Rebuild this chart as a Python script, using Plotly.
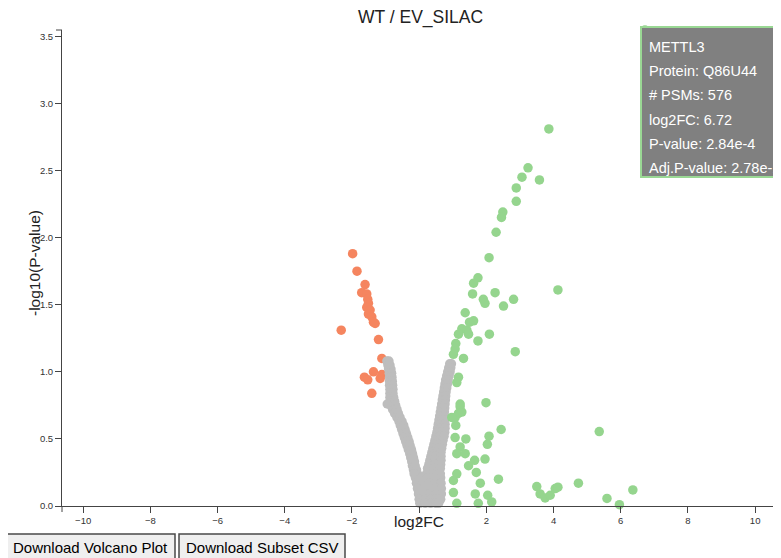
import plotly.graph_objects as go

# ---------------- data ----------------
title_text = "WT / EV_SILAC"
x_ticks = [-10, -8, -6, -4, -2, 0, 2, 4, 6, 8, 10]
y_ticks = [0.0, 0.5, 1.0, 1.5, 2.0, 2.5, 3.0, 3.5]

# down-regulated (significant, log2FC < 0)
down_x = [-1.98, -1.85, -1.61, -1.71, -1.56, -1.53, -1.51, -1.56, -1.46, -1.51, -1.41,
          -1.36, -1.31, -2.32, -1.21, -1.11, -1.36, -1.63, -1.53, -1.16, -1.41, -1.11]
down_y = [1.88, 1.75, 1.65, 1.59, 1.58, 1.54, 1.51, 1.48, 1.46, 1.43, 1.41,
          1.37, 1.36, 1.31, 1.24, 1.10, 1.00, 0.96, 0.94, 0.95, 0.84, 0.98]

# up-regulated (significant, log2FC > 0)
up_x = [6.72, 3.86, 3.24, 3.06, 3.58, 2.89, 2.89, 2.49, 2.45, 2.29, 2.08, 1.75, 1.62,
        1.59, 2.26, 1.91, 1.96, 2.81, 4.13, 2.51, 1.37, 1.50, 1.62, 1.27, 1.42, 1.17,
        1.47, 1.75, 2.09, 1.09, 1.07, 2.86, 1.02, 1.32, 1.17, 1.12, 1.99, 1.22, 1.17,
        1.27, 1.09, 2.44, 2.08, 1.39, 1.07, 2.03, 1.22, 1.12, 1.37, 1.96, 1.65, 1.47,
        1.70, 1.12, 2.36, 1.82, 1.02, 1.02, 1.67, 2.04, 1.12, 1.76, 2.16, 5.36, 3.50,
        3.60, 3.75, 3.90, 4.05, 4.13, 4.74, 6.36, 5.59, 5.96, 1.07, 0.97, 1.22]
up_y = [3.547, 2.81, 2.52, 2.45, 2.43, 2.37, 2.27, 2.19, 2.15, 2.04, 1.85, 1.70, 1.66,
        1.58, 1.59, 1.54, 1.51, 1.54, 1.61, 1.49, 1.44, 1.37, 1.38, 1.32, 1.31, 1.28,
        1.28, 1.23, 1.28, 1.21, 1.17, 1.15, 1.13, 1.10, 0.96, 0.92, 0.77, 0.74, 0.69,
        0.70, 0.60, 0.57, 0.52, 0.50, 0.51, 0.46, 0.44, 0.39, 0.39, 0.35, 0.34, 0.30,
        0.25, 0.24, 0.20, 0.17, 0.19, 0.10, 0.09, 0.08, 0.02, 0.02, 0.03, 0.555, 0.145,
        0.09, 0.06, 0.08, 0.13, 0.14, 0.17, 0.12, 0.056, 0.01, 0.66, 0.66, 0.76]

# not significant (dense V-shaped cloud)
ns_x = [-0.96, -0.90, -0.93, -0.87, -0.91, -0.84, -0.89, -0.82, -0.88, -0.81,
        -0.88, -0.80, -0.88, -0.79, -0.87, -0.78, -0.87, -0.78, -0.87, -0.76,
        -0.86, -0.73, -0.84, -0.70, -0.79, -0.66, -0.73, -0.62, -0.66, -0.57,
        -0.60, -0.51, -0.56, -0.46, -0.52, -0.42, -0.48, -0.38, -0.44, -0.34,
        -0.40, -0.30, -0.36, -0.27, -0.32, -0.23, -0.28, -0.20, -0.25, -0.17,
        -0.22, -0.14, -0.20, -0.12, -0.17, -0.08, -0.15, -0.05, -0.95,
        0.91, 0.96, 0.88, 0.94, 0.85, 0.92, 0.82, 0.89, 0.79, 0.86, 0.77, 0.84,
        0.75, 0.82, 0.73, 0.80, 0.71, 0.79, 0.69, 0.78, 0.67, 0.77, 0.65, 0.76,
        0.63, 0.75, 0.61, 0.75,
        0.59, 0.68, 0.76, 0.57, 0.66, 0.77, 0.55, 0.65, 0.77, 0.53, 0.64, 0.76,
        0.50, 0.62, 0.74, 0.47, 0.59, 0.71, 0.44, 0.57, 0.69, 0.41, 0.54, 0.67,
        0.38, 0.52, 0.65, 0.35, 0.50, 0.65, 0.32, 0.48, 0.65, 0.29, 0.46, 0.64,
        0.25, 0.44, 0.63,
        -0.13, 0.22, 0.40, 0.63, -0.11, 0.06, 0.24, 0.42, 0.64,
        -0.08, 0.10, 0.28, 0.46, 0.65, -0.05, 0.13, 0.31, 0.49, 0.66,
        -0.02, 0.16, 0.33, 0.50, 0.66, 0.00, 0.17, 0.34, 0.50, 0.64,
        0.02, 0.18, 0.34, 0.50, 0.58]
ns_y = [1.08, 1.08, 1.05, 1.05, 1.02, 1.02, 0.99, 0.99, 0.96, 0.96,
        0.93, 0.93, 0.90, 0.90, 0.87, 0.87, 0.84, 0.84, 0.81, 0.81,
        0.78, 0.78, 0.75, 0.75, 0.72, 0.72, 0.69, 0.69, 0.66, 0.66,
        0.63, 0.63, 0.60, 0.60, 0.57, 0.57, 0.54, 0.54, 0.51, 0.51,
        0.48, 0.48, 0.45, 0.45, 0.42, 0.42, 0.39, 0.39, 0.36, 0.36,
        0.33, 0.33, 0.30, 0.30, 0.27, 0.27, 0.24, 0.24, 0.76,
        1.06, 1.06, 1.03, 1.03, 1.00, 1.00, 0.97, 0.97, 0.94, 0.94, 0.91, 0.91,
        0.88, 0.88, 0.85, 0.85, 0.82, 0.82, 0.79, 0.79, 0.76, 0.76, 0.73, 0.73,
        0.70, 0.70, 0.67, 0.67,
        0.64, 0.64, 0.64, 0.61, 0.61, 0.61, 0.58, 0.58, 0.58, 0.55, 0.55, 0.55,
        0.52, 0.52, 0.52, 0.49, 0.49, 0.49, 0.46, 0.46, 0.46, 0.43, 0.43, 0.43,
        0.40, 0.40, 0.40, 0.37, 0.37, 0.37, 0.34, 0.34, 0.34, 0.31, 0.31, 0.31,
        0.28, 0.28, 0.28,
        0.24, 0.24, 0.24, 0.24, 0.21, 0.21, 0.21, 0.21, 0.21,
        0.17, 0.17, 0.17, 0.17, 0.17, 0.13, 0.13, 0.13, 0.13, 0.13,
        0.09, 0.09, 0.09, 0.09, 0.09, 0.05, 0.05, 0.05, 0.05, 0.05,
        0.02, 0.02, 0.02, 0.02, 0.02]

tooltip_lines = ["METTL3", "Protein: Q86U44", "# PSMs: 576", "log2FC: 6.72",
                 "P-value: 2.84e-4", "Adj.P-value: 2.78e-1"]
button_labels = ["Download Volcano Plot", "Download Subset CSV"]

# ---------------- figure ----------------
FONT = "Liberation Sans, Arial, Helvetica, sans-serif"
# page body has an 8px margin, so the figure is drawn 8px smaller and
# positioned so that the plot area lands at the reference location
OFF = 8
W, H = 781 - OFF, 558 - OFF
X0, X1, Y0, Y1 = 62, 778, 30, 506        # plot area in window pixels
PW, PH = X1 - X0, Y1 - Y0
ML, MT = X0 - OFF, Y0 - OFF
MR, MB = W - ML - PW, H - MT - PH


def px(x):
    return (x - X0) / PW


def py(y):
    return (Y1 - y) / PH


GREY = "#bdbdbd"
GREEN = "#95d58e"
RED = "#f5855f"
MS = 9.5

fig = go.Figure()
fig.add_trace(go.Scatter(x=down_x, y=down_y, mode="markers", cliponaxis=False,
                         marker=dict(size=MS, color=RED, line=dict(width=0)),
                         hoverinfo="skip", showlegend=False))
fig.add_trace(go.Scatter(x=ns_x, y=ns_y, mode="markers", cliponaxis=False,
                         marker=dict(size=MS, color=GREY, line=dict(width=0)),
                         hoverinfo="skip", showlegend=False))
fig.add_trace(go.Scatter(x=up_x, y=up_y, mode="markers", cliponaxis=False,
                         marker=dict(size=MS, color=GREEN, line=dict(width=0)),
                         hoverinfo="skip", showlegend=False))

axis_common = dict(showgrid=False, zeroline=False, showline=True, linecolor="#444",
                   linewidth=1, ticks="outside", ticklen=6, tickcolor="#444",
                   tickwidth=1, tickfont=dict(family=FONT, size=9.5, color="#333"))
fig.update_xaxes(range=[-10.63, 10.68], tickvals=x_ticks, **axis_common)
fig.update_yaxes(range=[0, 3.547], tickvals=y_ticks, tickformat=".1f", **axis_common)

shapes = []
# outer (domain) ticks at axis ends
shapes.append(dict(type="line", xref="paper", yref="paper", x0=px(X0 - 6), x1=0,
                   y0=1, y1=1, line=dict(color="#444", width=1)))
shapes.append(dict(type="line", xref="paper", yref="paper", x0=0, x1=0,
                   y0=0, y1=py(Y1 + 6), line=dict(color="#444", width=1)))
shapes.append(dict(type="line", xref="paper", yref="paper", x0=1, x1=1,
                   y0=0, y1=py(Y1 + 6), line=dict(color="#444", width=1)))
# tooltip box
shapes.append(dict(type="rect", xref="paper", yref="paper", layer="above",
                   x0=px(641), x1=px(830), y0=py(177), y1=py(27),
                   fillcolor="#808080", line=dict(color="#9ad894", width=2)))
# buttons
for bx0, bx1 in [(4, 175), (179, 345)]:
    shapes.append(dict(type="rect", xref="paper", yref="paper",
                       x0=px(bx0), x1=px(bx1), y0=py(566), y1=py(534),
                       fillcolor="#efefef", line=dict(color="#4a4a4a", width=1.5)))

ann = []
ann.append(dict(text=title_text, xref="paper", yref="paper", x=0.5, y=py(17),
                xanchor="center", yanchor="middle", showarrow=False,
                font=dict(family=FONT, size=17.5, color="#222")))
ann.append(dict(text="log2FC", xref="paper", yref="paper", x=px(419), y=py(521),
                xanchor="center", yanchor="middle", showarrow=False,
                font=dict(family=FONT, size=15.5, color="#222")))
ann.append(dict(text="-log10(P-value)", xref="paper", yref="paper", x=px(34), y=py(263),
                xanchor="center", yanchor="middle", showarrow=False, textangle=-90,
                font=dict(family=FONT, size=15.5, color="#222")))
for i, line in enumerate(tooltip_lines):
    ann.append(dict(text=line, xref="paper", yref="paper", x=px(647), y=py(47 + 24.2 * i),
                    xanchor="left", yanchor="middle", showarrow=False,
                    font=dict(family=FONT, size=14.5, color="white")))
for label, cx in zip(button_labels, [90, 262]):
    ann.append(dict(text=label, xref="paper", yref="paper", x=px(cx), y=py(547),
                    xanchor="center", yanchor="middle", showarrow=False,
                    font=dict(family=FONT, size=15, color="black")))

fig.update_layout(width=W, height=H, margin=dict(l=ML, r=MR, t=MT, b=MB),
                  paper_bgcolor="white", plot_bgcolor="white",
                  shapes=shapes, annotations=ann, hovermode=False,
                  font=dict(family=FONT))

fig.write_html("out.html")
